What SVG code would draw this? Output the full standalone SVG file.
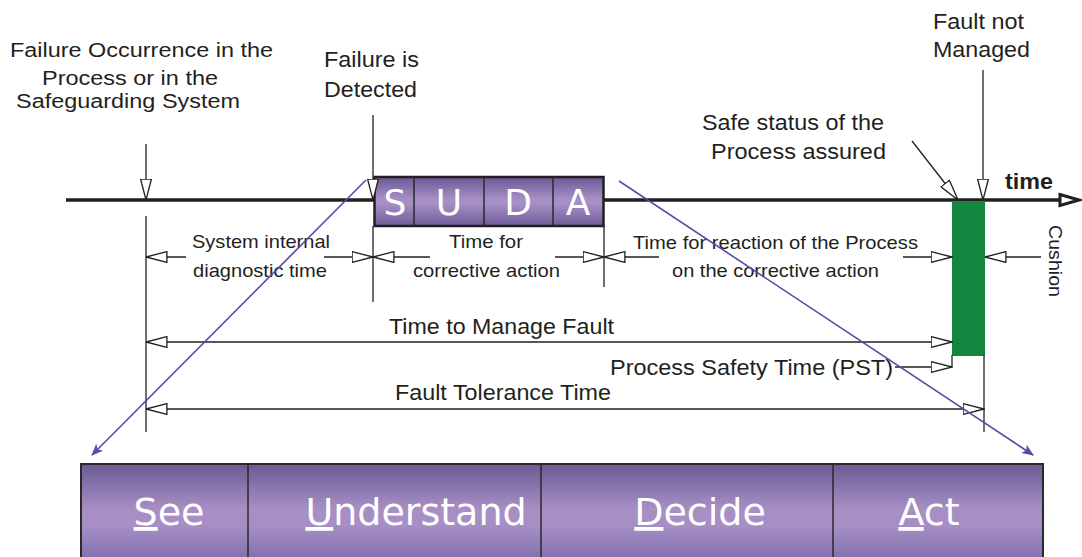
<svg xmlns="http://www.w3.org/2000/svg" width="1082" height="557" viewBox="0 0 1082 557">
  <style>
    .lbl { font-family: "Liberation Sans", Arial, sans-serif; fill: #231f20; }
    .big { font-size: 22px; }
    .mid { font-size: 22px; }
    .sm { font-size: 18.5px; }
    .ln { stroke: #231f20; stroke-width: 1.3; fill: none; }
    .dim { stroke: #231f20; stroke-width: 1.3; fill: none; marker-end: url(#open); }
    .zoom { stroke: #5a4aa6; stroke-width: 1.6; fill: none; marker-end: url(#solid); }
    .step { font-family: "DejaVu Sans", sans-serif; fill: #ffffff; text-anchor: middle; }
    .cell { fill: none; stroke: #2a2a2a; stroke-width: 1.5; }
  </style>
  <defs>
    <marker id="open" viewBox="0 0 22 12" refX="21.5" refY="6" markerWidth="22" markerHeight="12" markerUnits="userSpaceOnUse" orient="auto">
      <path d="M0.6,0.6 L21.5,6 L0.6,11.4 Z" fill="#ffffff" stroke="#231f20" stroke-width="1.3"/>
    </marker>
    <marker id="solid" viewBox="0 0 12 10" refX="11" refY="5" markerWidth="12" markerHeight="10" markerUnits="userSpaceOnUse" orient="auto">
      <path d="M0,0 L12,5 L0,10 L3,5 Z" fill="#5a4aa6"/>
    </marker>
    <linearGradient id="purple" x1="0" y1="0" x2="0" y2="1">
      <stop offset="0" stop-color="#6a5996"/>
      <stop offset="0.45" stop-color="#a68fc5"/>
      <stop offset="0.55" stop-color="#a68fc5"/>
      <stop offset="1" stop-color="#6c5a9a"/>
    </linearGradient>
    <linearGradient id="purpleBig" x1="0" y1="464" x2="0" y2="600" gradientUnits="userSpaceOnUse">
      <stop offset="0" stop-color="#6b5993"/>
      <stop offset="0.33" stop-color="#a78fc5"/>
      <stop offset="0.45" stop-color="#a78fc5"/>
      <stop offset="0.7" stop-color="#8470b0"/>
      <stop offset="1" stop-color="#6b5993"/>
    </linearGradient>
  </defs>

  <!-- time axis -->
  <g id="axis">
    <line x1="66" y1="200" x2="1066" y2="200" stroke="#231f20" stroke-width="3.5"/>
    <path d="M1060,194.5 L1079,200 L1060,205.5 Z" fill="#ffffff" stroke="#231f20" stroke-width="3" stroke-linejoin="miter"/>
    <text class="lbl" x="1005" y="189" font-size="22" font-weight="bold" textLength="48" lengthAdjust="spacingAndGlyphs">time</text>
  </g>

  <!-- safe state bar -->
  <g id="safe-bar">
    <rect x="952" y="201" width="33" height="155" fill="#13873f"/>
  </g>

  <!-- SUDA cycle -->
  <g id="suda">
    <rect x="374.5" y="177" width="229" height="49" fill="url(#purple)" stroke="#231f20" stroke-width="2.5"/>
    <line class="cell" x1="414" y1="177" x2="414" y2="226"/>
    <line class="cell" x1="484" y1="177" x2="484" y2="226"/>
    <line class="cell" x1="553" y1="177" x2="553" y2="226"/>
    <text class="step" x="395" y="215" font-size="36">S</text>
    <text class="step" x="449" y="215" font-size="36">U</text>
    <text class="step" x="518" y="215" font-size="36">D</text>
    <text class="step" x="578" y="215" font-size="36">A</text>
  </g>

  <!-- event labels -->
  <g id="failure-occurrence">
    <text class="lbl" font-size="20" x="10" y="57" textLength="263" lengthAdjust="spacingAndGlyphs">Failure Occurrence in the</text>
    <text class="lbl" font-size="20" x="42" y="85" textLength="176" lengthAdjust="spacingAndGlyphs">Process or in the</text>
    <text class="lbl" font-size="20" x="16" y="108" textLength="224" lengthAdjust="spacingAndGlyphs">Safeguarding System</text>
  </g>
  <g id="failure-detected">
    <text class="lbl big" x="324" y="67" textLength="95" lengthAdjust="spacingAndGlyphs">Failure is</text>
    <text class="lbl big" x="324" y="97" textLength="93" lengthAdjust="spacingAndGlyphs">Detected</text>
  </g>
  <g id="safe-status">
    <text class="lbl big" x="702" y="130" textLength="182" lengthAdjust="spacingAndGlyphs">Safe status of the</text>
    <text class="lbl big" x="711" y="159" textLength="175" lengthAdjust="spacingAndGlyphs">Process assured</text>
  </g>
  <g id="fault-not-managed">
    <text class="lbl big" x="933" y="29" textLength="91" lengthAdjust="spacingAndGlyphs">Fault not</text>
    <text class="lbl big" x="933" y="57" textLength="97" lengthAdjust="spacingAndGlyphs">Managed</text>
  </g>

  <!-- interval labels -->
  <g id="diag-time">
    <text class="lbl sm" x="192" y="248" textLength="138" lengthAdjust="spacingAndGlyphs">System internal</text>
    <text class="lbl sm" x="193" y="277" textLength="134" lengthAdjust="spacingAndGlyphs">diagnostic time</text>
  </g>
  <g id="corrective-time">
    <text class="lbl sm" x="449" y="248" textLength="74" lengthAdjust="spacingAndGlyphs">Time for</text>
    <text class="lbl sm" x="413" y="277" textLength="147" lengthAdjust="spacingAndGlyphs">corrective action</text>
  </g>
  <g id="reaction-time">
    <text class="lbl sm" x="633" y="249" textLength="285" lengthAdjust="spacingAndGlyphs">Time for reaction of the Process</text>
    <text class="lbl sm" x="672" y="277" textLength="207" lengthAdjust="spacingAndGlyphs">on the corrective action</text>
  </g>
  <g id="cushion">
    <text class="lbl" font-size="19" transform="translate(1049,225) rotate(90)" textLength="72" lengthAdjust="spacingAndGlyphs">Cushion</text>
  </g>
  <g id="manage-time">
    <text class="lbl mid" x="389" y="334" textLength="225" lengthAdjust="spacingAndGlyphs">Time to Manage Fault</text>
  </g>
  <g id="pst">
    <text class="lbl mid" x="610" y="375" textLength="283" lengthAdjust="spacingAndGlyphs">Process Safety Time (PST)</text>
  </g>
  <g id="ftt">
    <text class="lbl mid" x="395" y="400" textLength="216" lengthAdjust="spacingAndGlyphs">Fault Tolerance Time</text>
  </g>

  <!-- SUDA expanded -->
  <g id="suda-expanded">
    <rect x="81" y="464" width="962" height="100" fill="url(#purpleBig)" stroke="#2a2a2a" stroke-width="2"/>
    <line class="cell" x1="248" y1="464" x2="248" y2="557"/>
    <line class="cell" x1="541" y1="464" x2="541" y2="557"/>
    <line class="cell" x1="833" y1="464" x2="833" y2="557"/>
    <text class="step" x="169" y="525" font-size="38"><tspan text-decoration="underline">S</tspan>ee</text>
    <text class="step" x="416" y="525" font-size="38"><tspan text-decoration="underline">U</tspan>nderstand</text>
    <text class="step" x="700" y="525" font-size="38"><tspan text-decoration="underline">D</tspan>ecide</text>
    <text class="step" x="929" y="525" font-size="38"><tspan text-decoration="underline">A</tspan>ct</text>
  </g>

  <!-- connectors -->
  <g id="connectors">
    <!-- event pointers onto the axis -->
    <line class="dim" x1="146" y1="144" x2="146" y2="200"/>
    <line class="dim" x1="373" y1="115" x2="373" y2="200"/>
    <line class="dim" x1="912" y1="141" x2="958" y2="200"/>
    <line class="dim" x1="983" y1="70" x2="983" y2="200"/>

    <!-- extension lines -->
    <line class="ln" x1="146" y1="216" x2="146" y2="432"/>
    <line class="ln" x1="373" y1="226" x2="373" y2="302"/>
    <line class="ln" x1="604" y1="226" x2="604" y2="287"/>
    <line class="ln" x1="952" y1="355" x2="952" y2="367"/>
    <line class="ln" x1="984" y1="355" x2="984" y2="432"/>

    <!-- interval dimensions -->
    <line class="dim" x1="186" y1="257" x2="146" y2="257"/>
    <line class="dim" x1="324" y1="257" x2="373" y2="257"/>
    <line class="dim" x1="430" y1="257" x2="373" y2="257"/>
    <line class="dim" x1="555" y1="257" x2="604" y2="257"/>
    <line class="dim" x1="659" y1="257" x2="604" y2="257"/>
    <line class="dim" x1="903" y1="257" x2="952" y2="257"/>
    <line class="dim" x1="1041" y1="257" x2="985" y2="257"/>

    <line class="dim" x1="550" y1="342" x2="146" y2="342"/>
    <line class="dim" x1="550" y1="342" x2="952" y2="342"/>
    <line class="dim" x1="895" y1="367" x2="952" y2="367"/>
    <line class="dim" x1="560" y1="409" x2="146" y2="409"/>
    <line class="dim" x1="560" y1="409" x2="984" y2="409"/>

    <!-- zoom-out to the expanded cycle -->
    <line class="zoom" x1="366" y1="180" x2="92" y2="455"/>
    <line class="zoom" x1="619" y1="181" x2="1033" y2="455"/>
  </g>
</svg>
